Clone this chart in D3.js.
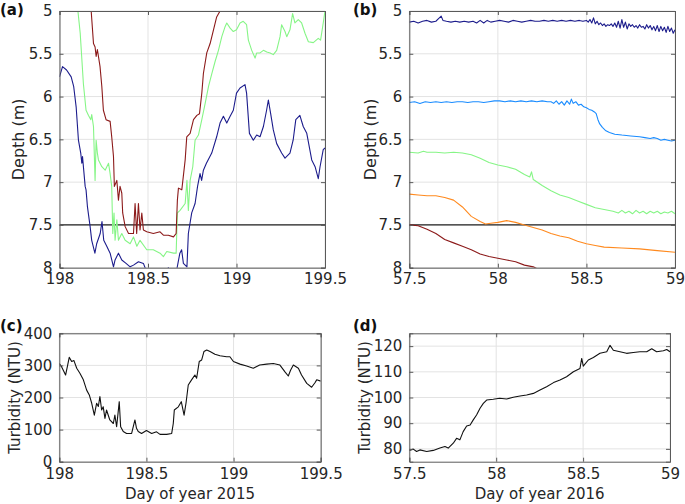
<!DOCTYPE html>
<html>
<head>
<meta charset="utf-8">
<script src="https://cdn.jsdelivr.net/npm/d3@7"></script>
<style>
html,body{margin:0;padding:0;background:#fff;}
svg{display:block;font-family:"DejaVu Sans",sans-serif;}
</style>
</head>
<body>
<svg id="chart" width="685" height="504"></svg>
<script>
// ---------- DATA ----------
const depthTicks = [5, 5.5, 6, 6.5, 7, 7.5, 8];
const xTicks2015 = [198, 198.5, 199, 199.5];
const xTicks2016 = [57.5, 58, 58.5, 59];
const turbTicks2015 = [0, 100, 200, 300, 400];
const turbTicks2016 = [80, 90, 100, 110, 120];
const depthThreshold = 7.5;

const a_navy = [[198.000,5.77],[198.017,5.65],[198.040,5.69],[198.066,5.77],[198.080,5.88],[198.094,6.12],[198.107,6.51],[198.120,6.66],[198.126,6.78],[198.130,6.70],[198.145,7.05],[198.150,7.09],[198.158,7.29],[198.173,7.52],[198.182,7.68],[198.200,7.83],[198.210,7.72],[198.230,7.60],[198.240,7.46],[198.250,7.68],[198.267,7.75],[198.286,7.83],[198.305,7.99],[198.314,7.91],[198.333,7.83],[198.352,7.91],[198.376,7.95],[198.399,7.99],[198.418,7.97],[198.446,7.93],[198.474,7.95],[198.493,8.05],[198.520,8.10],[198.550,8.05],[198.585,8.10],[198.615,8.00],[198.640,8.10],[198.660,8.05],[198.680,7.83],[198.690,7.79],[198.700,7.95],[198.720,7.99],[198.728,7.60],[198.747,7.36],[198.766,7.25],[198.780,7.05],[198.794,6.90],[198.803,6.98],[198.813,6.86],[198.830,6.78],[198.860,6.66],[198.888,6.47],[198.907,6.31],[198.926,6.23],[198.945,6.31],[198.964,6.23],[198.982,6.16],[199.000,5.96],[199.020,5.90],[199.048,5.86],[199.057,5.96],[199.073,6.43],[199.095,6.51],[199.114,6.45],[199.133,6.47],[199.152,6.35],[199.170,6.16],[199.180,6.04],[199.193,6.20],[199.208,6.39],[199.227,6.55],[199.255,6.66],[199.274,6.72],[199.302,6.66],[199.320,6.51],[199.335,6.27],[199.358,6.22],[199.377,6.35],[199.397,6.43],[199.425,6.74],[199.444,6.82],[199.462,6.96],[199.472,6.82],[199.490,6.62],[199.500,6.60]];
const a_green = [[198.104,5.00],[198.117,5.26],[198.135,5.85],[198.150,6.16],[198.164,6.22],[198.177,6.27],[198.182,6.21],[198.192,6.35],[198.201,6.98],[198.207,6.51],[198.214,6.66],[198.220,6.74],[198.239,6.82],[198.258,6.86],[198.277,6.78],[198.286,6.90],[198.295,7.05],[198.301,7.60],[198.308,7.36],[198.314,7.68],[198.324,7.44],[198.333,7.68],[198.352,7.60],[198.371,7.68],[198.399,7.72],[198.418,7.64],[198.437,7.75],[198.455,7.68],[198.493,7.79],[198.530,7.79],[198.568,7.83],[198.587,7.87],[198.606,7.81],[198.644,7.83],[198.659,7.83],[198.666,7.36],[198.681,7.33],[198.710,7.25],[198.720,6.98],[198.728,7.33],[198.738,6.98],[198.753,6.82],[198.766,6.51],[198.785,6.45],[198.804,6.27],[198.823,6.08],[198.842,5.88],[198.861,5.73],[198.879,5.59],[198.898,5.46],[198.917,5.30],[198.936,5.18],[198.945,5.14],[198.964,5.20],[198.982,5.24],[199.000,5.22],[199.020,5.14],[199.038,5.12],[199.057,5.16],[199.067,5.34],[199.086,5.46],[199.105,5.55],[199.114,5.49],[199.133,5.49],[199.152,5.46],[199.171,5.48],[199.190,5.49],[199.208,5.51],[199.227,5.46],[199.246,5.30],[199.255,5.16],[199.274,5.24],[199.284,5.30],[199.302,5.22],[199.317,5.03],[199.330,5.14],[199.349,5.10],[199.368,5.14],[199.387,5.26],[199.406,5.36],[199.434,5.37],[199.462,5.32],[199.475,5.34],[199.490,5.14],[199.500,5.00]];
const a_maroon = [[198.179,5.00],[198.192,5.38],[198.201,5.42],[198.207,5.53],[198.214,5.45],[198.229,5.65],[198.239,5.88],[198.248,6.16],[198.263,6.27],[198.286,6.29],[198.295,6.47],[198.305,6.70],[198.310,7.05],[198.324,6.98],[198.333,7.21],[198.342,7.05],[198.352,7.13],[198.357,7.36],[198.371,7.52],[198.390,7.60],[198.418,7.60],[198.427,7.25],[198.436,7.60],[198.446,7.25],[198.455,7.56],[198.465,7.36],[198.474,7.56],[198.493,7.58],[198.530,7.60],[198.568,7.58],[198.587,7.62],[198.615,7.62],[198.644,7.64],[198.659,7.60],[198.666,7.21],[198.672,7.07],[198.691,7.09],[198.710,6.74],[198.719,6.47],[198.738,6.43],[198.757,6.27],[198.776,6.22],[198.791,6.20],[198.804,5.96],[198.813,5.73],[198.832,5.49],[198.851,5.38],[198.870,5.22],[198.888,5.07],[198.907,5.00]];

const b_navy = [[57.500,5.13],[57.525,5.12],[57.550,5.14],[57.575,5.12],[57.600,5.11],[57.625,5.13],[57.650,5.12],[57.665,5.09],[57.680,5.06],[57.690,5.11],[57.710,5.12],[57.735,5.13],[57.760,5.12],[57.785,5.13],[57.810,5.12],[57.835,5.13],[57.860,5.12],[57.880,5.14],[57.900,5.11],[57.920,5.14],[57.940,5.11],[57.960,5.13],[57.985,5.12],[58.010,5.11],[58.035,5.12],[58.060,5.13],[58.085,5.11],[58.110,5.12],[58.135,5.13],[58.160,5.12],[58.185,5.11],[58.210,5.12],[58.235,5.12],[58.260,5.11],[58.285,5.12],[58.310,5.11],[58.335,5.12],[58.360,5.11],[58.385,5.12],[58.410,5.11],[58.435,5.12],[58.460,5.11],[58.480,5.12],[58.500,5.11],[58.510,5.13],[58.520,5.10],[58.530,5.14],[58.540,5.08],[58.550,5.15],[58.560,5.12],[58.570,5.16],[58.580,5.14],[58.590,5.17],[58.600,5.15],[58.610,5.18],[58.620,5.16],[58.630,5.17],[58.640,5.15],[58.650,5.18],[58.660,5.14],[58.670,5.19],[58.680,5.12],[58.690,5.20],[58.700,5.10],[58.710,5.19],[58.720,5.13],[58.730,5.21],[58.740,5.15],[58.750,5.18],[58.760,5.16],[58.770,5.19],[58.780,5.17],[58.790,5.20],[58.800,5.16],[58.810,5.19],[58.820,5.18],[58.830,5.21],[58.840,5.16],[58.850,5.20],[58.860,5.17],[58.870,5.22],[58.880,5.18],[58.890,5.23],[58.900,5.17],[58.910,5.24],[58.920,5.18],[58.930,5.23],[58.940,5.19],[58.950,5.25],[58.960,5.18],[58.970,5.24],[58.980,5.20],[58.990,5.26],[59.000,5.22]];
const b_blue = [[57.500,6.07],[57.530,6.06],[57.560,6.08],[57.590,6.06],[57.620,6.07],[57.650,6.06],[57.680,6.07],[57.710,6.06],[57.740,6.07],[57.770,6.06],[57.800,6.06],[57.830,6.07],[57.860,6.06],[57.890,6.06],[57.920,6.07],[57.950,6.06],[57.980,6.05],[58.010,6.05],[58.040,6.06],[58.070,6.05],[58.100,6.06],[58.130,6.05],[58.160,6.06],[58.190,6.05],[58.220,6.06],[58.250,6.05],[58.280,6.06],[58.300,6.06],[58.315,6.08],[58.330,6.05],[58.345,6.09],[58.360,6.06],[58.375,6.10],[58.390,6.05],[58.405,6.09],[58.415,6.03],[58.425,6.08],[58.440,6.06],[58.455,6.10],[58.470,6.09],[58.485,6.12],[58.500,6.13],[58.515,6.15],[58.530,6.16],[58.545,6.18],[58.555,6.20],[58.565,6.27],[58.575,6.32],[58.590,6.36],[58.610,6.40],[58.630,6.42],[58.660,6.44],[58.700,6.45],[58.750,6.46],[58.800,6.47],[58.830,6.48],[58.860,6.49],[58.880,6.48],[58.900,6.49],[58.920,6.51],[58.940,6.50],[58.960,6.51],[58.980,6.52],[59.000,6.51]];
const b_green = [[57.500,6.65],[57.550,6.66],[57.580,6.64],[57.600,6.65],[57.650,6.65],[57.700,6.66],[57.750,6.65],[57.800,6.66],[57.850,6.68],[57.900,6.72],[57.950,6.77],[58.000,6.80],[58.050,6.82],[58.100,6.85],[58.150,6.91],[58.180,6.94],[58.190,6.88],[58.200,6.97],[58.250,7.04],[58.300,7.10],[58.350,7.15],[58.400,7.18],[58.450,7.22],[58.500,7.26],[58.550,7.30],[58.600,7.32],[58.650,7.34],[58.680,7.36],[58.700,7.33],[58.720,7.36],[58.740,7.34],[58.760,7.37],[58.780,7.33],[58.800,7.36],[58.820,7.34],[58.840,7.37],[58.860,7.34],[58.880,7.36],[58.900,7.34],[58.920,7.37],[58.940,7.35],[58.960,7.36],[58.980,7.34],[59.000,7.37]];
const b_orange = [[57.500,7.14],[57.550,7.15],[57.600,7.16],[57.650,7.16],[57.700,7.18],[57.750,7.21],[57.800,7.29],[57.850,7.40],[57.900,7.46],[57.930,7.49],[57.960,7.48],[58.000,7.47],[58.050,7.45],[58.100,7.47],[58.150,7.50],[58.200,7.53],[58.250,7.56],[58.300,7.60],[58.350,7.63],[58.400,7.65],[58.450,7.69],[58.500,7.72],[58.550,7.74],[58.600,7.76],[58.700,7.77],[58.800,7.78],[58.900,7.80],[59.000,7.82]];
const b_maroon = [[57.500,7.50],[57.550,7.51],[57.600,7.55],[57.650,7.60],[57.700,7.67],[57.750,7.71],[57.800,7.75],[57.850,7.79],[57.900,7.84],[57.950,7.87],[58.000,7.89],[58.050,7.91],[58.100,7.93],[58.150,7.97],[58.200,7.99],[58.220,8.01]];

const c_turb = [[198.000,306],[198.013,296],[198.027,280],[198.036,270],[198.048,301],[198.057,325],[198.071,312],[198.084,315],[198.100,291],[198.119,275],[198.138,255],[198.157,223],[198.172,208],[198.186,182],[198.201,145],[198.214,182],[198.224,172],[198.233,203],[198.243,161],[198.252,171],[198.262,135],[198.271,161],[198.290,130],[198.310,119],[198.319,145],[198.329,109],[198.344,187],[198.352,109],[198.367,94],[198.386,88],[198.415,88],[198.434,130],[198.443,104],[198.453,94],[198.472,88],[198.500,97],[198.530,88],[198.558,93],[198.578,85],[198.616,85],[198.645,88],[198.654,119],[198.660,161],[198.683,171],[198.700,187],[198.716,145],[198.727,182],[198.740,239],[198.759,255],[198.778,270],[198.788,260],[198.803,312],[198.817,317],[198.830,343],[198.846,348],[198.865,343],[198.893,335],[198.922,330],[198.960,327],[198.979,327],[198.999,312],[199.037,304],[199.075,298],[199.113,291],[199.150,301],[199.190,304],[199.228,306],[199.266,301],[199.295,280],[199.314,267],[199.327,285],[199.343,301],[199.372,291],[199.390,270],[199.420,244],[199.448,232],[199.467,246],[199.477,255],[199.500,251]];
const d_turb = [[57.500,79.4],[57.523,79.9],[57.542,79.0],[57.561,79.6],[57.600,79.0],[57.638,79.4],[57.676,80.3],[57.705,80.9],[57.724,80.3],[57.753,82.2],[57.772,84.1],[57.791,83.5],[57.810,86.7],[57.830,88.9],[57.850,89.3],[57.868,91.3],[57.887,93.2],[57.907,95.8],[57.926,97.7],[57.945,99.0],[57.983,99.3],[58.020,99.7],[58.060,99.4],[58.098,100.1],[58.137,100.6],[58.175,101.0],[58.214,101.6],[58.252,102.9],[58.290,104.2],[58.330,105.8],[58.367,106.8],[58.405,108.1],[58.444,110.0],[58.482,111.3],[58.492,115.2],[58.501,112.2],[58.530,114.6],[58.559,115.6],[58.597,117.2],[58.636,117.8],[58.655,120.3],[58.674,118.4],[58.712,117.8],[58.750,117.2],[58.789,117.5],[58.827,117.8],[58.866,117.8],[58.895,119.0],[58.923,117.8],[58.962,118.2],[58.981,118.7],[59.000,117.8]];

const colNavy = "#1c1c8c", colBlue = "#1a8cff", colGreen = "#86f586", colOrange = "#ff8a1f", colMaroon = "#8c1a1a";

// ---------- DRAW ----------
const svg = d3.select("#chart");
const tickFont = 15;
const textCol = "#262626";
let clipId = 0;

function panel(opt) {
  const x = d3.scaleLinear().domain(opt.xDomain).range([opt.left, opt.right]);
  const y = d3.scaleLinear().domain(opt.yDomain).range(opt.yReverse ? [opt.top, opt.bottom] : [opt.bottom, opt.top]);
  const g = svg.append("g");
  g.selectAll(".gx").data(opt.xTicks).enter().append("line")
    .attr("x1", d => x(d)).attr("x2", d => x(d))
    .attr("y1", opt.top).attr("y2", opt.bottom)
    .attr("stroke", "#e3e3e3").attr("stroke-width", 1);
  g.selectAll(".gy").data(opt.yTicks).enter().append("line")
    .attr("y1", d => y(d)).attr("y2", d => y(d))
    .attr("x1", opt.left).attr("x2", opt.right)
    .attr("stroke", "#e3e3e3").attr("stroke-width", 1);
  const id = "clip" + (clipId++);
  svg.append("clipPath").attr("id", id).append("rect")
    .attr("x", opt.left).attr("y", opt.top)
    .attr("width", opt.right - opt.left).attr("height", opt.bottom - opt.top);
  const plot = g.append("g").attr("clip-path", `url(#${id})`);
  if (opt.hline !== undefined) {
    plot.append("line").attr("x1", opt.left).attr("x2", opt.right)
      .attr("y1", y(opt.hline)).attr("y2", y(opt.hline))
      .attr("stroke", "#222").attr("stroke-width", 1.2);
  }
  const line = d3.line().x(d => x(d[0])).y(d => y(d[1]));
  opt.series.forEach(s => {
    plot.append("path").attr("d", line(s.data)).attr("fill", "none")
      .attr("stroke", s.color).attr("stroke-width", 1.1).attr("stroke-linejoin", "round");
  });
  const axB = d3.axisBottom(x).tickValues(opt.xTicks).tickSize(-4).tickPadding(opt.xPad).tickFormat(d3.format("~g"));
  const axL = d3.axisLeft(y).tickValues(opt.yTicks).tickSize(-4).tickPadding(7).tickFormat(d3.format("~g"));
  const axT = d3.axisTop(x).tickValues(opt.xTicks).tickSize(-4).tickFormat("");
  const axR = d3.axisRight(y).tickValues(opt.yTicks).tickSize(-4).tickFormat("");
  const gb = g.append("g").attr("transform", `translate(0,${opt.bottom})`).call(axB);
  const gl = g.append("g").attr("transform", `translate(${opt.left},0)`).call(axL);
  const gt = g.append("g").attr("transform", `translate(0,${opt.top})`).call(axT);
  const gr = g.append("g").attr("transform", `translate(${opt.right},0)`).call(axR);
  [gb, gl, gt, gr].forEach(a => {
    a.select(".domain").attr("stroke", "#5a5a5a").attr("stroke-width", 1);
    a.selectAll(".tick line").attr("stroke", "#5a5a5a");
    a.selectAll("text").attr("fill", textCol).attr("font-size", tickFont).attr("font-family", "DejaVu Sans");
  });
  g.append("text").attr("transform", `translate(${opt.ylabelX},${(opt.top + opt.bottom) / 2}) rotate(-90)`)
    .attr("text-anchor", "middle").attr("dominant-baseline", "middle")
    .attr("fill", textCol).attr("font-size", opt.ylabelSize).text(opt.ylabel);
  if (opt.xlabel) {
    g.append("text").attr("x", (opt.left + opt.right) / 2).attr("y", opt.xlabelY)
      .attr("text-anchor", "middle").attr("fill", textCol).attr("font-size", 15).text(opt.xlabel);
  }
  svg.append("text").attr("x", opt.tagX).attr("y", opt.tagY)
    .attr("font-weight", "bold").attr("font-size", 15).attr("fill", "#111").text(opt.tag);
}

panel({left: 59.5, right: 325, top: 11, bottom: 267.7, xDomain: [198, 199.5], yDomain: [5, 8], yReverse: true,
  xTicks: xTicks2015, yTicks: depthTicks, hline: depthThreshold, ylabel: "Depth (m)", ylabelX: 19, ylabelSize: 16, xPad: 6,
  tag: "(a)", tagX: 0, tagY: 15,
  series: [{data: a_navy, color: colNavy}, {data: a_green, color: colGreen}, {data: a_maroon, color: colMaroon}]});

panel({left: 409.3, right: 675, top: 11, bottom: 267.7, xDomain: [57.5, 59], yDomain: [5, 8], yReverse: true,
  xTicks: xTicks2016, yTicks: depthTicks, hline: depthThreshold, ylabel: "Depth (m)", ylabelX: 371, ylabelSize: 16, xPad: 6,
  tag: "(b)", tagX: 353, tagY: 15,
  series: [{data: b_navy, color: colNavy}, {data: b_blue, color: colBlue}, {data: b_green, color: colGreen},
           {data: b_orange, color: colOrange}, {data: b_maroon, color: colMaroon}]});

panel({left: 59.3, right: 320.7, top: 333.3, bottom: 461.7, xDomain: [198, 199.5], yDomain: [0, 400], yReverse: false,
  xTicks: xTicks2015, yTicks: turbTicks2015, ylabel: "Turbidity (NTU)", ylabelX: 15, ylabelSize: 15, xPad: 7,
  xlabel: "Day of year 2015", xlabelY: 499,
  tag: "(c)", tagX: 0, tagY: 331,
  series: [{data: c_turb, color: "#111"}]});

panel({left: 409.3, right: 670, top: 333.3, bottom: 461.7, xDomain: [57.5, 59], yDomain: [75, 125], yReverse: false,
  xTicks: xTicks2016, yTicks: turbTicks2016, ylabel: "Turbidity (NTU)", ylabelX: 365, ylabelSize: 15, xPad: 7,
  xlabel: "Day of year 2016", xlabelY: 499,
  tag: "(d)", tagX: 353, tagY: 331,
  series: [{data: d_turb, color: "#111"}]});
</script>
</body>
</html>
